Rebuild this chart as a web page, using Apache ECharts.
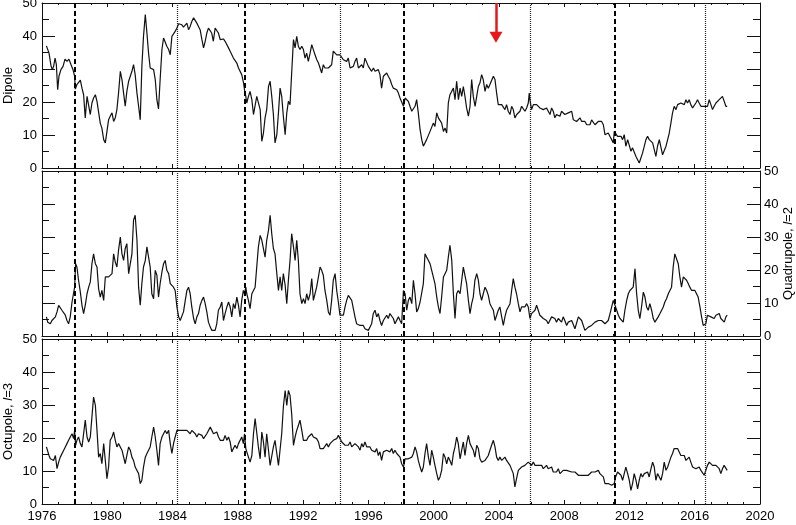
<!DOCTYPE html>
<html>
<head>
<meta charset="utf-8">
<script src="https://cdn.jsdelivr.net/npm/echarts@6/dist/echarts.min.js"></script>
<style>
  html, body { margin: 0; padding: 0; background: #fff; }
  #chart { width: 796px; height: 525px; }
</style>
</head>
<body>
<div id="chart"></div>
<script>
// [year, value] samples
const dipole = [
  [1976.27,37.0],[1976.35,36.5],[1976.43,34.8],[1976.55,31.0],[1976.63,29.8],[1976.71,30.8],[1976.80,33.3],[1976.88,31.3],[1976.96,23.7],[1977.04,27.8],[1977.16,29.8],[1977.29,30.8],[1977.41,33.0],[1977.53,32.3],[1977.65,33.0],[1977.78,31.3],[1977.90,29.8],[1978.00,27.8],[1978.04,23.9],[1978.14,25.3],[1978.24,24.8],[1978.35,26.6],[1978.45,24.2],[1978.55,22.2],[1978.65,15.2],[1978.76,21.7],[1978.86,22.2],[1978.96,16.2],[1979.06,19.7],[1979.16,21.2],[1979.27,22.2],[1979.37,20.2],[1979.47,19.7],[1979.57,13.6],[1979.67,12.1],[1979.78,8.6],[1979.88,7.6],[1979.98,7.1],[1980.08,14.6],[1980.18,15.7],[1980.29,16.7],[1980.39,14.1],[1980.49,15.2],[1980.59,17.7],[1980.69,22.7],[1980.80,29.3],[1980.90,26.8],[1981.00,22.7],[1981.10,18.7],[1981.20,23.2],[1981.31,26.3],[1981.41,27.8],[1981.51,29.3],[1981.61,31.3],[1981.71,28.3],[1981.82,22.7],[1981.92,18.7],[1982.02,14.6],[1982.12,30.8],[1982.22,39.9],[1982.33,46.5],[1982.43,40.9],[1982.53,34.8],[1982.63,30.3],[1982.73,30.3],[1982.84,29.8],[1982.94,26.8],[1983.04,20.7],[1983.14,17.9],[1983.24,26.8],[1983.35,35.9],[1983.45,39.4],[1983.55,39.1],[1983.65,36.9],[1983.76,35.9],[1983.86,34.3],[1983.96,39.9],[1984.06,39.9],[1984.16,41.4],[1984.27,42.4],[1984.37,43.7],[1984.47,43.1],[1984.57,43.4],[1984.67,42.7],[1984.78,42.4],[1984.88,43.9],[1984.98,41.9],[1985.08,42.9],[1985.18,44.4],[1985.29,45.5],[1985.39,46.0],[1985.49,43.9],[1985.59,42.9],[1985.69,41.9],[1985.80,38.9],[1985.90,36.4],[1986.00,38.4],[1986.10,40.9],[1986.20,42.4],[1986.30,42.9],[1986.40,40.9],[1986.50,38.4],
  [1986.61,42.4],[1986.71,42.9],[1986.81,40.9],[1986.92,38.9],[1987.02,39.4],[1987.12,39.1],[1987.22,38.4],[1987.33,37.9],[1987.43,36.4],[1987.53,35.4],[1987.63,34.8],[1987.73,33.3],[1987.83,33.8],[1987.94,31.8],[1988.04,30.3],[1988.14,29.8],[1988.24,28.3],[1988.35,25.8],[1988.41,23.7],[1988.49,21.7],[1988.55,19.7],[1988.65,21.7],[1988.75,23.2],[1988.86,20.7],[1988.96,16.2],[1989.06,15.7],[1989.16,21.7],[1989.26,22.2],[1989.37,17.7],[1989.47,8.1],[1989.57,10.6],[1989.67,15.2],[1989.77,17.7],[1989.88,24.7],[1989.98,26.3],[1990.08,21.7],[1990.18,16.2],[1990.28,7.6],[1990.39,10.1],[1990.49,16.7],[1990.59,24.2],[1990.69,21.7],[1990.79,15.7],[1990.90,10.1],[1991.00,16.7],[1991.10,20.2],[1991.20,19.2],[1991.30,28.8],[1991.41,38.9],[1991.51,36.4],[1991.61,39.9],[1991.71,36.9],[1991.81,35.9],[1991.92,36.9],[1992.02,35.9],[1992.12,33.3],[1992.22,34.8],[1992.32,32.3],[1992.43,34.8],[1992.53,37.4],[1992.63,36.9],[1992.73,34.3],[1992.84,32.8],[1992.94,31.8],[1993.04,32.3],[1993.14,28.8],[1993.24,31.3],[1993.34,30.3],[1993.45,30.8],[1993.55,30.3],[1993.65,30.8],[1993.75,31.3],[1993.85,35.4],[1993.96,34.8],[1994.06,34.3],[1994.16,34.8],[1994.26,34.3],[1994.37,33.8],[1994.47,32.8],[1994.57,33.3],[1994.67,32.3],[1994.77,33.3],[1994.88,30.3],[1994.98,29.8],[1995.08,30.8],[1995.18,32.3],[1995.28,33.3],[1995.39,30.3],[1995.49,30.8],[1995.59,31.3],[1995.69,30.3],[1995.79,33.3],[1995.90,32.8],[1996.00,30.8],[1996.10,30.3],[1996.20,29.3],[1996.31,30.3],[1996.41,29.3],[1996.51,28.8],[1996.61,29.8],[1996.71,28.3],[1996.81,24.2],[1996.92,27.8],[1997.02,28.3],[1997.12,28.8],[1997.22,27.8],[1997.33,26.8],[1997.43,25.3],[1997.53,24.2],[1997.63,23.7],
  [1997.74,23.7],[1997.84,22.7],[1997.94,21.2],[1998.04,21.7],[1998.15,18.7],[1998.25,21.2],[1998.35,20.7],[1998.45,20.2],[1998.55,18.7],[1998.66,17.2],[1998.76,17.7],[1998.86,18.7],[1998.96,20.7],[1999.06,16.7],[1999.17,11.6],[1999.27,8.6],[1999.37,6.6],[1999.47,6.1],[1999.57,8.6],[1999.68,9.1],[1999.78,11.1],[1999.88,10.6],[1999.98,13.6],[2000.08,12.6],[2000.19,16.7],[2000.29,15.2],[2000.39,14.6],[2000.49,13.6],[2000.60,11.1],[2000.70,12.1],[2000.80,10.6],[2000.90,19.7],[2001.00,22.2],[2001.11,21.7],[2001.21,24.2],[2001.31,20.7],[2001.41,26.3],[2001.52,20.7],[2001.62,24.2],[2001.72,21.7],[2001.82,24.7],[2001.92,21.7],[2002.02,18.2],[2002.13,15.7],[2002.23,18.7],[2002.33,26.8],[2002.43,21.7],[2002.54,18.7],[2002.64,21.7],[2002.74,24.7],[2002.84,25.8],[2002.94,28.3],[2003.04,26.8],[2003.15,23.2],[2003.25,25.3],[2003.35,24.2],[2003.45,25.3],[2003.56,25.8],[2003.66,27.8],[2003.76,26.8],[2003.86,22.7],[2003.96,19.2],[2004.06,18.7],[2004.17,19.2],[2004.27,18.7],[2004.37,17.7],[2004.47,19.2],[2004.57,17.2],[2004.68,16.2],[2004.78,18.7],[2004.88,17.7],[2004.98,15.2],[2005.09,16.2],[2005.19,16.7],[2005.29,17.2],[2005.39,18.7],[2005.49,18.2],[2005.60,17.2],[2005.70,18.2],[2005.80,19.7],[2005.86,22.7],[2005.90,20.7],[2006.00,17.7],[2006.11,19.2],[2006.21,18.7],[2006.31,19.2],[2006.41,18.7],[2006.51,18.2],[2006.62,18.7],[2006.72,17.7],[2006.82,17.2],[2006.92,18.2],[2007.02,17.7],[2007.13,16.2],[2007.23,18.2],[2007.33,17.2],[2007.43,15.2],[2007.53,16.2],[2007.64,16.7],[2007.74,15.7],[2007.84,17.2],[2007.94,16.7],[2008.04,16.2],[2008.15,16.7],
  [2008.25,16.7],[2008.36,17.2],[2008.46,17.2],[2008.56,14.6],[2008.66,15.2],[2008.76,14.1],[2008.87,14.6],[2008.97,15.2],[2009.07,14.1],[2009.17,13.6],[2009.27,14.1],[2009.38,13.1],[2009.48,13.6],[2009.58,13.1],[2009.68,14.6],[2009.78,15.2],[2009.89,13.1],[2009.99,13.6],[2010.09,14.1],[2010.19,13.6],[2010.29,14.1],[2010.40,13.1],[2010.50,10.1],[2010.60,9.6],[2010.70,10.6],[2010.80,9.6],[2010.91,8.6],[2011.01,7.6],[2011.07,11.1],[2011.15,10.6],[2011.27,9.6],[2011.38,10.1],[2011.48,9.6],[2011.58,8.6],[2011.68,10.1],[2011.78,6.6],[2011.89,8.6],[2011.99,8.1],[2012.09,5.1],[2012.19,6.1],[2012.29,5.6],[2012.40,3.5],[2012.50,2.5],[2012.60,1.5],[2012.70,2.0],[2012.80,4.5],[2012.91,6.6],[2013.01,8.6],[2013.11,9.6],[2013.21,8.6],[2013.32,9.1],[2013.42,7.6],[2013.52,5.6],[2013.62,3.5],[2013.72,6.6],[2013.83,8.6],[2013.93,9.1],[2014.03,4.0],[2014.13,4.5],[2014.24,6.6],[2014.34,8.6],[2014.44,10.6],[2014.54,13.6],[2014.64,16.7],[2014.74,18.7],[2014.85,17.7],[2014.95,19.2],[2015.05,18.7],[2015.15,19.7],[2015.25,20.2],[2015.36,19.2],[2015.46,20.7],[2015.56,19.7],[2015.66,20.7],[2015.76,19.2],[2015.87,18.2],[2015.97,17.7],[2016.07,19.7],[2016.17,20.7],[2016.27,19.7],[2016.38,18.7],[2016.48,18.2],[2016.58,18.7],[2016.68,19.2],[2016.78,18.7],[2016.89,20.7],[2016.99,19.2],[2017.09,17.7],[2017.19,18.7],[2017.30,19.7],[2017.40,19.2],[2017.50,20.7],[2017.60,21.2],[2017.70,21.7],[2017.80,21.2],[2017.91,18.7],[2017.99,18.7]
];

const quadrupole = [
  [1976.27,5.8],[1976.35,4.2],[1976.43,4.7],[1976.51,3.7],[1976.61,4.7],[1976.71,4.2],[1976.82,5.8],[1976.92,7.3],[1977.02,9.3],[1977.12,8.8],[1977.22,7.8],[1977.33,7.3],[1977.43,6.3],[1977.53,4.7],[1977.63,3.7],[1977.73,5.8],[1977.84,10.3],[1977.94,10.8],[1978.00,14.8],[1978.06,21.9],[1978.14,20.9],[1978.24,16.9],[1978.35,13.3],[1978.45,9.3],[1978.55,6.8],[1978.65,9.3],[1978.76,12.8],[1978.86,14.8],[1978.96,16.4],[1979.06,21.9],[1979.16,24.9],[1979.27,21.9],[1979.37,20.9],[1979.47,14.3],[1979.57,11.8],[1979.67,13.8],[1979.78,10.8],[1979.88,17.9],[1979.98,18.4],[1980.08,17.9],[1980.18,18.4],[1980.29,18.9],[1980.39,24.9],[1980.49,22.4],[1980.59,20.9],[1980.69,26.0],[1980.80,30.0],[1980.90,24.9],[1981.00,22.9],[1981.10,26.5],[1981.20,28.0],[1981.31,18.9],[1981.41,18.4],[1981.51,24.9],[1981.61,35.1],[1981.71,36.6],[1981.82,29.0],[1981.92,14.8],[1982.02,9.3],[1982.12,15.9],[1982.22,20.9],[1982.33,22.9],[1982.43,27.0],[1982.53,23.9],[1982.63,20.9],[1982.73,12.8],[1982.84,11.3],[1982.94,19.9],[1983.04,18.4],[1983.14,11.8],[1983.24,15.9],[1983.35,19.4],[1983.45,21.9],[1983.55,22.9],[1983.65,19.9],[1983.76,18.9],[1983.86,15.9],[1983.96,15.3],[1984.06,14.8],[1984.16,13.8],[1984.27,8.8],[1984.37,5.8],[1984.47,4.7],[1984.57,5.3],[1984.67,7.3],[1984.78,10.8],[1984.88,13.8],[1984.98,14.8],[1985.08,12.8],[1985.18,8.8],[1985.29,5.3],[1985.39,3.7],[1985.49,5.8],[1985.59,6.8],[1985.69,9.3],[1985.80,10.8],[1985.90,11.8],[1986.00,9.8],[1986.10,7.3],[1986.20,4.2],[1986.31,2.7],[1986.41,1.7],[1986.51,1.2],[1986.61,1.7],[1986.71,3.7],
  [1986.81,7.8],[1986.92,8.8],[1987.02,10.3],[1987.12,4.7],[1987.22,6.8],[1987.33,8.8],[1987.43,10.3],[1987.53,8.8],[1987.63,5.8],[1987.73,9.8],[1987.83,8.3],[1987.94,11.8],[1988.04,9.3],[1988.14,5.8],[1988.24,10.8],[1988.34,13.8],[1988.41,12.8],[1988.49,14.8],[1988.55,12.8],[1988.65,10.8],[1988.75,8.3],[1988.86,12.8],[1988.96,13.3],[1989.06,14.8],[1989.16,20.9],[1989.26,27.0],[1989.37,30.5],[1989.47,29.0],[1989.57,26.5],[1989.67,23.9],[1989.77,29.0],[1989.88,32.0],[1989.98,36.6],[1990.08,31.0],[1990.18,26.5],[1990.28,24.9],[1990.39,18.9],[1990.49,13.8],[1990.59,17.9],[1990.69,13.8],[1990.79,18.9],[1990.90,15.4],[1991.00,9.8],[1991.10,16.9],[1991.20,22.9],[1991.30,31.0],[1991.41,27.0],[1991.51,22.9],[1991.61,29.0],[1991.71,22.9],[1991.81,12.8],[1991.92,9.8],[1992.02,11.3],[1992.12,9.8],[1992.22,12.8],[1992.32,10.8],[1992.43,12.8],[1992.53,17.4],[1992.63,10.8],[1992.73,12.8],[1992.83,14.8],[1992.94,17.9],[1993.04,20.9],[1993.14,19.9],[1993.24,18.4],[1993.34,13.8],[1993.45,10.8],[1993.55,7.3],[1993.65,6.3],[1993.75,10.8],[1993.85,16.9],[1993.96,18.9],[1994.06,13.8],[1994.16,10.3],[1994.26,6.3],[1994.37,6.8],[1994.47,6.3],[1994.57,8.8],[1994.67,10.8],[1994.77,12.3],[1994.88,11.8],[1994.98,10.8],[1995.08,8.3],[1995.18,5.8],[1995.28,3.7],[1995.39,3.7],[1995.49,3.2],[1995.59,2.7],[1995.69,3.2],[1995.79,2.2],[1995.90,2.7],[1996.00,1.7],[1996.10,2.2],[1996.20,3.7],[1996.30,6.8],[1996.41,7.8],[1996.51,5.8],[1996.61,6.8],[1996.71,4.7],[1996.81,3.2],[1996.92,4.7],[1997.02,4.2],[1997.12,6.3],[1997.22,5.3],[1997.32,6.8],[1997.43,7.3],[1997.53,5.3],[1997.63,3.7],
  [1997.74,4.2],[1997.84,5.8],[1997.94,4.7],[1998.04,3.7],[1998.15,13.8],[1998.25,12.8],[1998.35,7.8],[1998.45,10.8],[1998.55,11.8],[1998.66,9.8],[1998.76,16.9],[1998.86,12.8],[1998.96,7.3],[1999.06,8.3],[1999.17,10.3],[1999.27,10.8],[1999.37,15.9],[1999.47,24.9],[1999.57,23.9],[1999.68,22.9],[1999.78,21.9],[1999.88,19.9],[1999.98,17.9],[2000.08,15.9],[2000.19,11.8],[2000.29,8.8],[2000.39,6.8],[2000.49,11.8],[2000.60,17.9],[2000.70,17.9],[2000.80,19.9],[2000.90,23.9],[2001.00,27.5],[2001.11,22.9],[2001.21,12.8],[2001.31,5.3],[2001.41,12.8],[2001.51,13.8],[2001.62,12.8],[2001.72,16.9],[2001.82,20.9],[2001.92,21.4],[2002.02,15.9],[2002.13,10.8],[2002.23,6.8],[2002.33,9.8],[2002.43,11.8],[2002.53,16.9],[2002.64,18.9],[2002.74,16.9],[2002.84,12.8],[2002.94,10.8],[2003.04,12.8],[2003.15,14.8],[2003.25,13.8],[2003.35,12.3],[2003.45,9.8],[2003.55,8.8],[2003.66,7.8],[2003.76,4.7],[2003.86,4.7],[2003.96,7.8],[2004.06,8.8],[2004.17,5.8],[2004.27,3.2],[2004.37,5.8],[2004.47,7.8],[2004.57,8.3],[2004.68,9.8],[2004.78,13.8],[2004.88,17.4],[2004.98,14.8],[2005.08,12.8],[2005.19,9.8],[2005.29,7.3],[2005.39,8.8],[2005.49,9.3],[2005.59,8.8],[2005.70,9.8],[2005.80,8.8],[2005.90,5.3],[2006.00,6.8],[2006.11,7.3],[2006.21,7.8],[2006.31,9.3],[2006.41,7.8],[2006.51,6.3],[2006.62,5.8],[2006.72,5.3],[2006.82,5.8],[2006.92,4.7],[2007.02,3.7],[2007.13,4.2],[2007.23,5.8],[2007.33,6.3],[2007.43,5.3],[2007.53,4.2],[2007.64,5.3],[2007.74,4.7],[2007.84,4.2],[2007.94,5.8],[2008.04,4.7],[2008.15,3.2],
  [2008.25,4.2],[2008.46,4.7],[2008.66,2.2],[2008.87,5.8],[2009.07,4.7],[2009.27,1.7],[2009.48,2.7],[2009.68,3.2],[2009.89,4.2],[2010.09,4.7],[2010.29,4.7],[2010.50,3.7],[2010.70,4.7],[2010.81,6.8],[2010.91,8.8],[2011.01,10.8],[2011.11,10.3],[2011.22,7.8],[2011.32,6.3],[2011.42,5.3],[2011.52,4.7],[2011.62,4.2],[2011.72,7.8],[2011.83,10.8],[2011.93,12.8],[2012.03,13.8],[2012.13,13.3],[2012.23,14.8],[2012.34,20.4],[2012.44,12.8],[2012.54,7.8],[2012.64,5.3],[2012.74,8.8],[2012.85,13.3],[2012.95,11.8],[2013.05,8.8],[2013.15,7.8],[2013.25,9.8],[2013.36,7.8],[2013.46,5.3],[2013.56,4.2],[2013.66,4.7],[2013.76,5.8],[2013.87,6.8],[2013.97,7.3],[2014.07,8.8],[2014.17,10.3],[2014.27,11.3],[2014.38,12.8],[2014.48,13.8],[2014.58,14.8],[2014.68,20.9],[2014.78,24.9],[2014.89,24.4],[2014.99,21.9],[2015.09,17.9],[2015.19,14.8],[2015.30,17.9],[2015.40,18.4],[2015.50,16.9],[2015.60,15.9],[2015.70,14.8],[2015.81,13.8],[2015.91,14.3],[2016.01,13.8],[2016.11,12.8],[2016.21,11.8],[2016.32,8.8],[2016.42,5.8],[2016.52,3.2],[2016.58,2.7],[2016.68,3.7],[2016.78,6.3],[2016.89,6.8],[2016.99,5.8],[2017.09,6.3],[2017.19,5.3],[2017.30,6.3],[2017.40,5.8],[2017.50,6.8],[2017.60,5.3],[2017.70,4.7],[2017.81,4.2],[2017.91,5.8],[2017.99,6.3]
];

const octupole = [
  [1976.27,17.3],[1976.35,16.8],[1976.43,14.7],[1976.51,13.7],[1976.61,14.2],[1976.71,13.2],[1976.82,14.7],[1976.92,10.7],[1977.02,12.7],[1977.12,14.2],[1977.22,14.7],[1977.33,16.3],[1977.43,17.3],[1977.53,18.3],[1977.63,19.3],[1977.73,20.3],[1977.84,21.3],[1977.94,19.8],[1978.00,22.3],[1978.06,17.8],[1978.14,19.3],[1978.24,20.3],[1978.35,18.3],[1978.45,17.3],[1978.55,21.3],[1978.65,25.4],[1978.76,20.3],[1978.86,18.8],[1978.96,20.3],[1979.06,26.4],[1979.16,32.4],[1979.27,29.9],[1979.37,22.3],[1979.47,14.2],[1979.57,15.3],[1979.67,12.2],[1979.78,18.3],[1979.88,13.2],[1979.98,7.7],[1980.08,11.2],[1980.18,19.3],[1980.29,20.3],[1980.39,21.8],[1980.49,19.3],[1980.59,17.3],[1980.69,18.3],[1980.80,18.8],[1980.90,16.3],[1981.00,16.8],[1981.10,12.2],[1981.20,14.7],[1981.31,17.3],[1981.41,16.3],[1981.51,14.2],[1981.61,13.2],[1981.71,11.2],[1981.82,11.7],[1981.92,9.2],[1982.02,6.2],[1982.12,7.2],[1982.22,11.2],[1982.33,14.2],[1982.43,15.3],[1982.53,16.3],[1982.63,17.3],[1982.73,20.3],[1982.84,23.3],[1982.94,20.3],[1983.04,16.3],[1983.14,11.7],[1983.24,18.3],[1983.35,20.3],[1983.45,21.3],[1983.55,22.3],[1983.65,21.3],[1983.76,22.3],[1983.86,18.3],[1983.96,15.3],[1984.06,18.3],[1984.16,20.3],[1984.27,22.3],[1984.37,22.8],[1984.47,22.3],[1984.57,22.5],[1984.67,22.3],[1984.78,22.8],[1984.88,22.3],[1984.98,21.8],[1985.08,21.3],[1985.18,22.3],[1985.29,21.8],[1985.39,21.3],[1985.49,20.3],[1985.59,21.3],[1985.69,21.8],[1985.80,20.8],[1985.90,19.8],[1986.00,20.3],[1986.10,21.3],[1986.20,21.8],[1986.31,23.3],[1986.41,22.8],[1986.51,21.3],[1986.61,20.8],[1986.71,21.8],[1986.82,20.3],[1986.92,19.3],
  [1987.02,19.8],[1987.12,19.3],[1987.22,20.8],[1987.33,19.3],[1987.43,20.3],[1987.53,18.8],[1987.63,15.8],[1987.73,16.8],[1987.83,17.8],[1987.94,16.8],[1988.04,18.3],[1988.14,18.8],[1988.24,20.3],[1988.34,18.3],[1988.41,21.3],[1988.49,16.8],[1988.55,15.8],[1988.65,16.3],[1988.75,12.7],[1988.86,14.7],[1988.96,21.3],[1989.06,25.9],[1989.16,25.6],[1989.26,17.3],[1989.37,13.7],[1989.47,21.8],[1989.57,18.8],[1989.67,14.2],[1989.77,21.3],[1989.88,16.3],[1989.98,11.7],[1990.08,11.2],[1990.18,17.3],[1990.28,19.3],[1990.39,15.3],[1990.49,11.7],[1990.59,12.2],[1990.69,21.3],[1990.79,29.4],[1990.90,34.4],[1991.00,29.9],[1991.10,34.4],[1991.20,32.9],[1991.30,27.4],[1991.41,17.8],[1991.51,20.3],[1991.61,22.3],[1991.71,23.8],[1991.81,25.4],[1991.92,22.3],[1992.02,19.3],[1992.12,19.8],[1992.22,19.3],[1992.32,20.3],[1992.43,19.8],[1992.53,21.3],[1992.63,20.3],[1992.73,20.8],[1992.83,19.8],[1992.94,18.8],[1993.04,16.8],[1993.14,17.3],[1993.24,16.8],[1993.34,17.3],[1993.45,18.3],[1993.55,17.3],[1993.65,18.3],[1993.75,18.8],[1993.85,19.3],[1993.96,18.8],[1994.06,19.8],[1994.16,20.8],[1994.26,20.3],[1994.37,18.8],[1994.47,19.3],[1994.57,17.8],[1994.67,18.3],[1994.77,17.8],[1994.88,18.8],[1994.98,17.3],[1995.08,17.8],[1995.18,18.3],[1995.28,18.8],[1995.39,17.3],[1995.49,16.3],[1995.59,18.3],[1995.69,17.3],[1995.79,18.8],[1995.90,17.3],[1996.00,16.8],[1996.10,17.3],[1996.20,16.3],[1996.30,16.8],[1996.41,15.8],[1996.51,16.8],[1996.61,14.7],[1996.71,15.8],[1996.81,13.2],[1996.92,15.8],[1997.02,15.3],[1997.12,16.3],[1997.22,16.8],[1997.32,15.8],[1997.43,16.8],[1997.53,15.3],[1997.63,16.3],
  [1997.74,15.3],[1997.84,14.7],[1997.94,14.2],[1998.04,12.2],[1998.15,11.2],[1998.25,13.7],[1998.35,13.2],[1998.45,13.7],[1998.55,13.2],[1998.66,14.2],[1998.76,15.3],[1998.86,17.3],[1998.96,15.8],[1999.06,13.2],[1999.17,11.2],[1999.27,9.7],[1999.37,11.2],[1999.47,15.3],[1999.57,18.3],[1999.68,14.2],[1999.78,11.7],[1999.88,16.3],[1999.98,14.2],[2000.08,11.7],[2000.19,9.2],[2000.29,7.2],[2000.39,8.2],[2000.49,10.2],[2000.60,15.3],[2000.70,14.2],[2000.80,12.2],[2000.90,14.2],[2001.00,13.2],[2001.11,11.7],[2001.21,15.3],[2001.31,17.3],[2001.41,20.3],[2001.51,18.3],[2001.62,13.7],[2001.72,16.3],[2001.82,18.8],[2001.92,14.7],[2002.02,18.3],[2002.13,20.8],[2002.23,18.3],[2002.33,17.3],[2002.43,16.3],[2002.53,14.2],[2002.64,17.8],[2002.74,16.8],[2002.84,13.7],[2002.94,12.7],[2003.04,12.2],[2003.15,13.2],[2003.25,13.7],[2003.35,14.7],[2003.45,16.3],[2003.55,17.8],[2003.66,19.3],[2003.76,17.3],[2003.86,14.2],[2003.96,13.2],[2004.06,14.2],[2004.17,13.2],[2004.27,13.7],[2004.37,14.2],[2004.47,13.2],[2004.57,12.7],[2004.68,11.7],[2004.78,11.2],[2004.88,9.2],[2004.98,5.2],[2005.08,7.7],[2005.19,10.2],[2005.29,10.7],[2005.39,11.2],[2005.49,11.2],[2005.59,11.7],[2005.70,12.2],[2005.80,12.7],[2005.90,13.2],[2006.00,11.7],[2006.11,12.7],[2006.21,11.7],[2006.31,12.2],[2006.41,11.7],[2006.51,11.2],[2006.62,11.7],[2006.72,10.7],[2006.82,11.2],[2006.92,11.7],[2007.02,10.7],[2007.13,10.2],[2007.23,11.2],[2007.33,9.7],[2007.43,9.2],[2007.53,9.7],[2007.64,10.7],[2007.74,9.2],[2007.84,9.7],[2007.94,10.2],[2008.04,10.7],[2008.15,10.2],[2008.25,9.7],
  [2008.46,9.7],[2008.56,9.2],[2008.66,9.7],[2008.76,9.2],[2008.87,8.7],[2008.97,9.2],[2009.07,8.7],[2009.17,8.2],[2009.27,8.7],[2009.38,8.2],[2009.48,8.7],[2009.58,9.2],[2009.68,9.7],[2009.78,9.2],[2009.89,9.7],[2009.99,10.2],[2010.09,10.2],[2010.19,9.2],[2010.29,9.7],[2010.40,8.2],[2010.50,6.2],[2010.60,6.7],[2010.70,6.2],[2010.80,6.7],[2010.91,5.7],[2011.01,5.2],[2011.07,6.2],[2011.15,8.2],[2011.27,9.7],[2011.38,10.2],[2011.48,8.7],[2011.58,7.2],[2011.68,9.2],[2011.78,11.2],[2011.89,9.2],[2011.99,7.2],[2012.09,4.1],[2012.19,6.2],[2012.29,9.2],[2012.40,7.2],[2012.50,4.6],[2012.60,7.2],[2012.70,9.2],[2012.80,8.2],[2012.91,9.2],[2013.01,8.7],[2013.11,9.7],[2013.21,8.2],[2013.32,10.7],[2013.42,12.7],[2013.52,11.2],[2013.62,7.2],[2013.72,9.2],[2013.83,8.2],[2013.93,7.2],[2014.03,9.2],[2014.13,12.7],[2014.24,10.2],[2014.34,11.2],[2014.44,12.7],[2014.54,14.2],[2014.64,15.3],[2014.74,16.8],[2014.85,17.3],[2014.95,16.8],[2015.05,16.3],[2015.15,14.7],[2015.25,14.2],[2015.36,14.7],[2015.46,13.2],[2015.56,13.7],[2015.66,14.2],[2015.76,12.7],[2015.87,11.2],[2015.97,11.7],[2016.07,10.7],[2016.17,10.2],[2016.27,11.2],[2016.38,10.2],[2016.48,9.7],[2016.58,8.7],[2016.68,10.2],[2016.78,11.7],[2016.89,12.7],[2016.99,12.2],[2017.09,11.7],[2017.19,11.2],[2017.30,11.7],[2017.40,11.2],[2017.50,10.7],[2017.60,9.2],[2017.70,10.7],[2017.80,11.7],[2017.91,11.2],[2017.99,10.2]
];

// vertical markers (years)
const dashedYears = [1978.0, 1988.41, 1998.15, 2011.07];
const dottedYears = [1984.27, 1994.26, 2005.9, 2016.62];
const arrowYear = 2003.82;
const arrowFrom = 50;
const arrowTo = 39.6;

const yearLabels = [1976, 1980, 1984, 1988, 1992, 1996, 2000, 2004, 2008, 2012, 2016, 2020];
const panelNames = ['Dipole', 'Quadrupole, {i|l}=2', 'Octupole, {i|l}=3'];

const FONT = "'Liberation Sans', Arial, Helvetica, sans-serif";
const INK = '#111';

const grids = [
  { left: 42, right: 36, top: 3, height: 165, outerBoundsMode: 'none', containLabel: false },
  { left: 42, right: 36, top: 171, height: 165, outerBoundsMode: 'none', containLabel: false },
  { left: 42, right: 36, top: 339, height: 165, outerBoundsMode: 'none', containLabel: false }
];

function xAxisFor(gridIndex, position, showLabels) {
  return {
    type: 'value', gridIndex: gridIndex, position: position,
    min: 1976, max: 2020, interval: 4,
    axisLine: { show: true, onZero: false, lineStyle: { color: INK, width: 1 } },
    axisTick: { show: true, inside: true, length: 4, lineStyle: { color: INK } },
    minorTick: { show: true, splitNumber: 4, length: 2, lineStyle: { color: INK } },
    splitLine: { show: false },
    axisLabel: {
      show: showLabels, margin: 6, color: '#000', fontSize: 13, fontFamily: FONT,
      formatter: v => (yearLabels.indexOf(v) >= 0 ? String(v) : '')
    }
  };
}

function yAxisFor(gridIndex, position, showLabels, name) {
  const ax = {
    type: 'value', gridIndex: gridIndex, position: position,
    min: 0, max: 50, interval: 10,
    axisLine: { show: true, onZero: false, lineStyle: { color: INK, width: 1 } },
    axisTick: { show: true, inside: true, length: 13, lineStyle: { color: INK } },
    minorTick: { show: true, splitNumber: 2, length: 7, lineStyle: { color: INK } },
    splitLine: { show: false },
    axisLabel: { show: showLabels, margin: position === 'left' ? 5 : 4, color: '#000', fontSize: 13, fontFamily: FONT }
  };
  if (name) {
    ax.name = name;
    ax.nameLocation = 'middle';
    ax.nameRotate = 90;
    ax.nameMoveOverlap = false;
    ax.nameGap = position === 'left' ? 27 : 22;
    ax.nameTextStyle = {
      color: '#000', fontSize: 13, fontFamily: FONT,
      rich: { i: { fontStyle: 'italic', fontSize: 13, fontFamily: FONT, color: '#000' } }
    };
  }
  return ax;
}

const verticalLines = dashedYears.map(y => ({
  xAxis: y, lineStyle: { type: [5, 3], width: 2, color: '#000' }
})).concat(dottedYears.map(y => ({
  xAxis: y, lineStyle: { type: [1, 1], width: 1.2, color: '#222' }
})));

function panelSeries(data, xi, yi, extraMarks) {
  return {
    type: 'line', xAxisIndex: xi, yAxisIndex: yi,
    data: data, showSymbol: false, symbol: 'none',
    lineStyle: { color: '#111', width: 1.2 },
    markLine: {
      silent: true, symbol: ['none', 'none'], label: { show: false },
      animation: false,
      data: verticalLines.concat(extraMarks || [])
    }
  };
}

const arrowMark = [
  { coord: [arrowYear, arrowFrom], symbol: 'none', lineStyle: { color: '#e3191c', width: 2.5, type: 'solid' } },
  { coord: [arrowYear, arrowTo], symbol: 'triangle', symbolSize: [13, 11], itemStyle: { color: '#e3191c' } }
];

const chart = echarts.init(document.getElementById('chart'), null, { renderer: 'canvas' });
chart.setOption({
  animation: false,
  backgroundColor: '#fff',
  grid: grids,
  xAxis: [
    xAxisFor(0, 'bottom', false), xAxisFor(0, 'top', false),
    xAxisFor(1, 'bottom', false), xAxisFor(1, 'top', false),
    xAxisFor(2, 'bottom', true), xAxisFor(2, 'top', false)
  ],
  yAxis: [
    yAxisFor(0, 'left', true, panelNames[0]), yAxisFor(0, 'right', false),
    yAxisFor(1, 'left', false), yAxisFor(1, 'right', true, panelNames[1]),
    yAxisFor(2, 'left', true, panelNames[2]), yAxisFor(2, 'right', false)
  ],
  series: [
    panelSeries(dipole, 0, 0, [arrowMark]),
    panelSeries(quadrupole, 2, 3),
    panelSeries(octupole, 4, 4)
  ]
});
</script>
</body>
</html>
